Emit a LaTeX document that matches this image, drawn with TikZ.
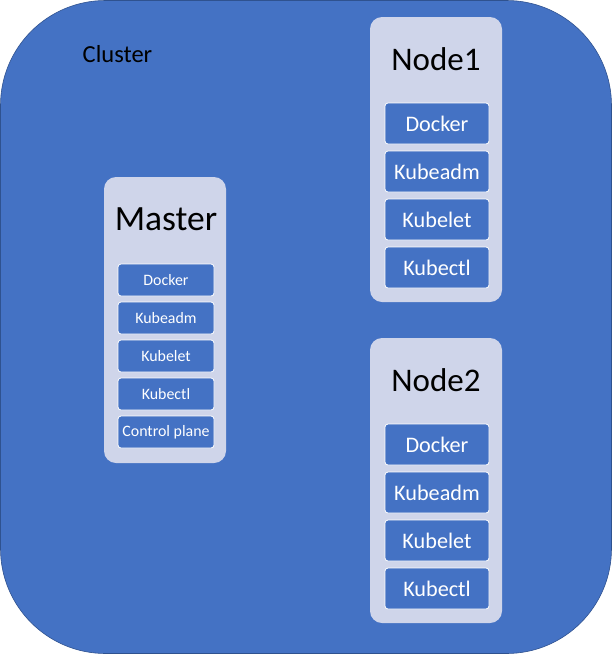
\documentclass[tikz,border=0pt]{standalone}
\usepackage{fontspec}
\setmainfont{Carlito}
\usepackage{xcolor}
\usepackage{tikz}
\usetikzlibrary{shapes}
\definecolor{officeBlue}{HTML}{4472C4}
\definecolor{officeEdge}{HTML}{2F528F}
\definecolor{paleBlue}{HTML}{CFD5EA}
\tikzstyle{tsCluster} = [
    rectangle,
    rounded corners=105pt,
    fill=officeBlue,
    draw=officeEdge,
    line width=0.6pt
]
\tikzstyle{tsHost} = [
    rectangle,
    rounded corners=12pt,
    fill=paleBlue,
    draw=none,
    minimum width=122pt,
    inner sep=0pt
]
\tikzstyle{tsTitle} = [
    text=black,
    font=\fontsize{33}{36}\selectfont
]
\tikzstyle{tsPart} = [
    rectangle,
    rounded corners=3pt,
    fill=officeBlue,
    draw=white,
    line width=0.8pt,
    text=white,
    inner sep=0pt
]
\tikzstyle{tsPartLarge} = [
    tsPart,
    minimum width=104pt,
    minimum height=41pt,
    font=\fontsize{22.2}{24}\selectfont
]
\tikzstyle{tsPartSmall} = [
    tsPart,
    minimum width=96pt,
    minimum height=32pt,
    font=\fontsize{15.9}{18}\selectfont
]

\begin{document}
\begin{tikzpicture}[x=1pt, y=-1pt]

        \useasboundingbox (0,0) rectangle (612,654);
        \draw[tsCluster] (0.5,0.5) rectangle (611.5,653.5);
        \node[text=black, font=\fontsize{24.5}{26}\selectfont] (cluster) at (117.5,54) {Cluster};

        % master
        \node[tsHost, minimum width=122pt, minimum height=286pt] (master) at (165,320) {};
        \node[tsTitle, font=\fontsize{35.5}{38}\selectfont] (masterTitle) at (166,219) {Master};
        \node[tsPartSmall] (mDocker) at (166,280) {Docker};
        \node[tsPartSmall] (mKubeadm) at (166,318) {Kubeadm};
        \node[tsPartSmall] (mKubelet) at (166,356) {Kubelet};
        \node[tsPartSmall] (mKubectl) at (166,394) {Kubectl};
        \node[tsPartSmall] (mControl) at (166,432) {Control plane};

        % node1
        \node[tsHost, minimum width=132pt, minimum height=285pt] (nodeOne) at (436,159.5) {};
        \node[tsTitle] (nodeOneTitle) at (436,59) {Node1};
        \node[tsPartLarge] (aDocker) at (437,123.5) {Docker};
        \node[tsPartLarge] (aKubeadm) at (437,171.5) {Kubeadm};
        \node[tsPartLarge] (aKubelet) at (437,219.5) {Kubelet};
        \node[tsPartLarge] (aKubectl) at (437,267.5) {Kubectl};

        % node2
        \node[tsHost, minimum width=132pt, minimum height=285pt] (nodeTwo) at (436,480.5) {};
        \node[tsTitle] (nodeTwoTitle) at (436,380) {Node2};
        \node[tsPartLarge] (bDocker) at (437,444.5) {Docker};
        \node[tsPartLarge] (bKubeadm) at (437,492.5) {Kubeadm};
        \node[tsPartLarge] (bKubelet) at (437,540.5) {Kubelet};
        \node[tsPartLarge] (bKubectl) at (437,588.5) {Kubectl};

\end{tikzpicture}
\end{document}
